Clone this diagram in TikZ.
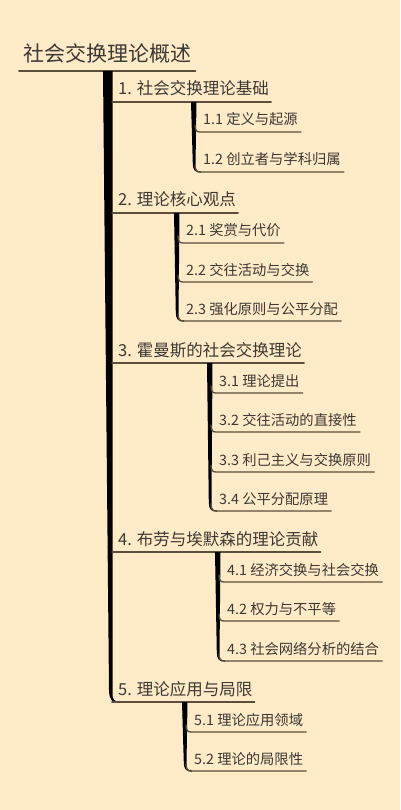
\documentclass[tikz,border=0pt]{standalone}
\usepackage{fontspec}
\setmainfont{Noto Sans CJK SC}
\usetikzlibrary{calc}
\definecolor{paper}{RGB}{255,235,199}
\definecolor{inkline}{RGB}{92,78,60}
\definecolor{inktext}{RGB}{60,56,52}
\tikzset{topic/.style={anchor=base west,inner sep=0pt,text=inktext,
		font=\fontsize{21}{25}\selectfont},
	branch/.style={topic,font=\fontsize{16.5}{20}\selectfont},
	leaf/.style={topic,font=\fontsize{14.3}{17}\selectfont},
	uline/.style={draw=inkline,line width=#1},
	uline/.default=1.3pt,
	stem/.style={fill=black}}

\begin{document}
\begin{tikzpicture}[x=1pt,y=-1pt,line cap=round]
	\fill[paper] (0,0) rectangle (400,810);
	\useasboundingbox (0,0) rectangle (400,810);

	% root
	\node[topic] (root) at (23,62) {社会交换理论概述};
	\coordinate (root-u) at (19,71);
	\draw[uline=2pt] (root-u) -- ($(root-u -| root.east)+(4,0)$);

	% trunk
	\fill[stem] (103,71) -- (112.5,71) -- (112.5,693)
		.. controls (112.5,700) and (114,701.3) .. (119,701.3) -- (119,702.7)
		.. controls (112,702.7) and (109.3,700) .. (109,690) -- cycle;

	\foreach \b/\y/\t in {1/102/1. 社会交换理论基础, 2/213/2. 理论核心观点,
		3/363/3. 霍曼斯的社会交换理论, 4/552/4. 布劳与埃默森的理论贡献,
		5/702/5. 理论应用与局限}
	{
		\node[branch] (b\b) at (118,\y-7) {\t};
		\coordinate (b\b-u) at (112,\y);
		\draw[uline=1.5pt] (b\b-u) -- ($(b\b-u -| b\b.east)+(2,0)$);
	}

	% stems under the branches
	\foreach \g/\sx/\top/\bot in {1/191/102/172, 2/174/213/321, 3/207/363/511,
		4/215/552/661, 5/182/702/771}
		\fill[stem] (\sx,\top) -- (\sx+5.5,\top) -- (\sx+4.5,\bot-7)
			.. controls (\sx+4.5,\bot-1.5) and (\sx+6,\bot-0.6) .. (\sx+10,\bot-0.6)
			-- (\sx+10,\bot+0.6)
			.. controls (\sx+4,\bot+0.6) and (\sx+2,\bot-2) .. (\sx+1.8,\bot-8) -- cycle;

	\foreach \g/\i/\sx/\y/\t in {1/1/191/132/1.1 定义与起源, 1/2/191/172/1.2 创立者与学科归属,
		2/1/174/243/2.1 奖赏与代价, 2/2/174/282/2.2 交往活动与交换,
		2/3/174/321/2.3 强化原则与公平分配,
		3/1/207/393/3.1 理论提出, 3/2/207/432/3.2 交往活动的直接性,
		3/3/207/472/3.3 利己主义与交换原则, 3/4/207/511/3.4 公平分配原理,
		4/1/215/582/4.1 经济交换与社会交换, 4/2/215/621/4.2 权力与不平等,
		4/3/215/661/4.3 社会网络分析的结合,
		5/1/182/732/5.1 理论应用领域, 5/2/182/771/5.2 理论的局限性}
	{
		\node[leaf] (c\g-\i) at (\sx+12,\y-7) {\t};
		\coordinate (c\g-\i-u) at (\sx+9,\y);
		\draw[uline] (\sx+4,\y-7) .. controls (\sx+4.3,\y-1.5) and (\sx+5.5,\y) .. (c\g-\i-u)
			-- ($(c\g-\i-u -| c\g-\i.east)+(3,0)$);
	}
\end{tikzpicture}
\end{document}
